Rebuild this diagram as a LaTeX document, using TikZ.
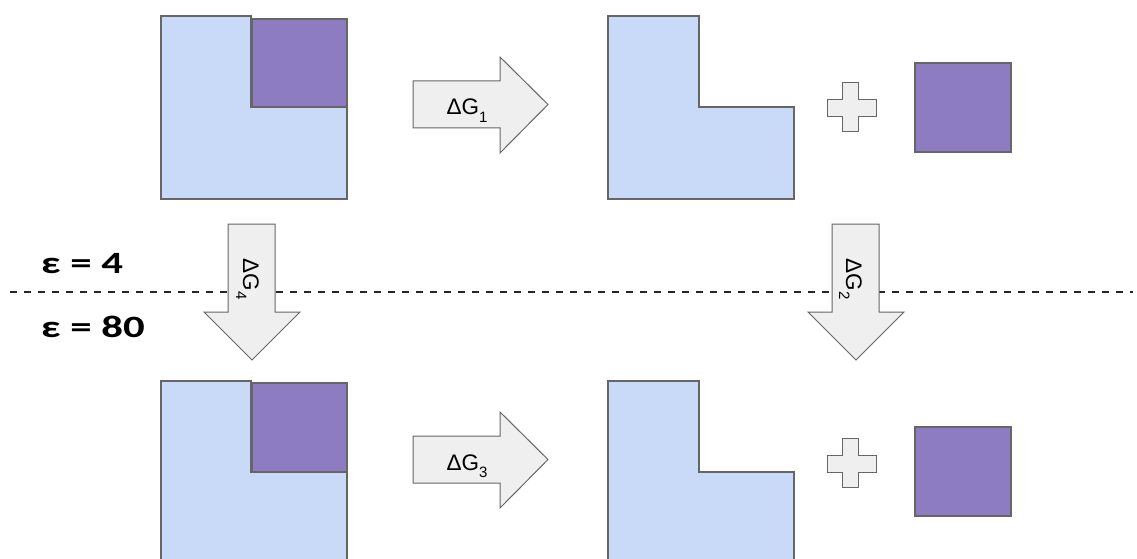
\documentclass[tikz,border=0pt]{standalone}
\usepackage{fontspec}
\setmainfont{Liberation Sans}
\newfontfamily\epsfont{Carlito}
\definecolor{lblue}{HTML}{C9DAF8}
\definecolor{lpurp}{HTML}{8E7CC3}
\definecolor{agray}{HTML}{EFEFEF}
\definecolor{edgec}{HTML}{666666}
\newcommand{\subsc}[1]{\raisebox{-7pt}{\fontsize{15}{15}\selectfont #1}}
\newcommand{\epstext}[1]{\scalebox{1.38}[1]{#1}}
\begin{document}
\begin{tikzpicture}[x=1pt,y=-1pt,
  blueshape/.style={fill=lblue,draw=edgec,line width=1.3pt,line join=miter},
  purpshape/.style={fill=lpurp,draw=edgec,line width=1.3pt},
  arrowshape/.style={fill=agray,draw=edgec,line width=1pt,line join=miter},
  dline/.style={draw=black!85,line width=1.8pt,dash pattern=on 7pt off 7pt},
  glabel/.style={font=\fontsize{22.5}{22.5}\selectfont,inner sep=0pt,anchor=base},
  epslabel/.style={font=\epsfont\bfseries\fontsize{31}{31}\selectfont,inner sep=0pt,anchor=base west}]
\useasboundingbox (0,0) rectangle (1137,559);
\fill[white] (0,0) rectangle (1137,559);
\clip (0,0) rectangle (1137,559);
% dashed separator
\coordinate (dl) at (10,292);
\coordinate (dr) at (1133,292);
\draw[dline] (dl) -- (dr);
% labels
\node[epslabel] (eps4) at (41,273) {\epstext{ε = 4}};
\node[epslabel] (eps80) at (41,337) {\epstext{ε = 80}};
% top row
\filldraw[blueshape] (161,16) -- (251,16) -- (251,107) -- (347,107) -- (347,199) -- (161,199) -- cycle;
\filldraw[purpshape] (252,19) rectangle (347,107);
\filldraw[arrowshape] (413,81) -- (500,81) -- (500,57) -- (548,104.5) -- (500,153) -- (500,128) -- (413,128) -- cycle;
\node[glabel] (g1) at (467,115) {ΔG\subsc{1}};
\filldraw[blueshape] (608,16) -- (699,16) -- (699,107) -- (794,107) -- (794,199) -- (608,199) -- cycle;
\filldraw[arrowshape] (842,83) -- (858,83) -- (858,100) -- (876,100) -- (876,117) -- (858,117) -- (858,132) -- (842,132) -- (842,117) -- (827,117) -- (827,100) -- (842,100) -- cycle;
\filldraw[purpshape] (915,63) rectangle (1011,152);
% bottom row
\filldraw[blueshape] (161,381) -- (251,381) -- (251,472) -- (347,472) -- (347,600) -- (161,600) -- cycle;
\filldraw[purpshape] (252,383) rectangle (347,472);
\filldraw[arrowshape] (413,436) -- (500,436) -- (500,412) -- (548,459.5) -- (500,508) -- (500,483) -- (413,483) -- cycle;
\node[glabel] (g3) at (467,470) {ΔG\subsc{3}};
\filldraw[blueshape] (608,381) -- (699,381) -- (699,472) -- (794,472) -- (794,600) -- (608,600) -- cycle;
\filldraw[arrowshape] (842,438) -- (858,438) -- (858,455) -- (876,455) -- (876,472) -- (858,472) -- (858,487) -- (842,487) -- (842,472) -- (827,472) -- (827,455) -- (842,455) -- cycle;
\filldraw[purpshape] (915,427) rectangle (1011,516);
% vertical arrows
\filldraw[arrowshape] (228,224) -- (275,224) -- (275,312) -- (300,312) -- (252,360) -- (204,312) -- (228,312) -- cycle;
\node[glabel,rotate=-90] (g4) at (243,279) {ΔG\subsc{4}};
\filldraw[arrowshape] (832,224) -- (879,224) -- (879,312) -- (904,312) -- (856,360) -- (808,312) -- (832,312) -- cycle;
\node[glabel,rotate=-90] (g2) at (846,279) {ΔG\subsc{2}};
\end{tikzpicture}
\end{document}
